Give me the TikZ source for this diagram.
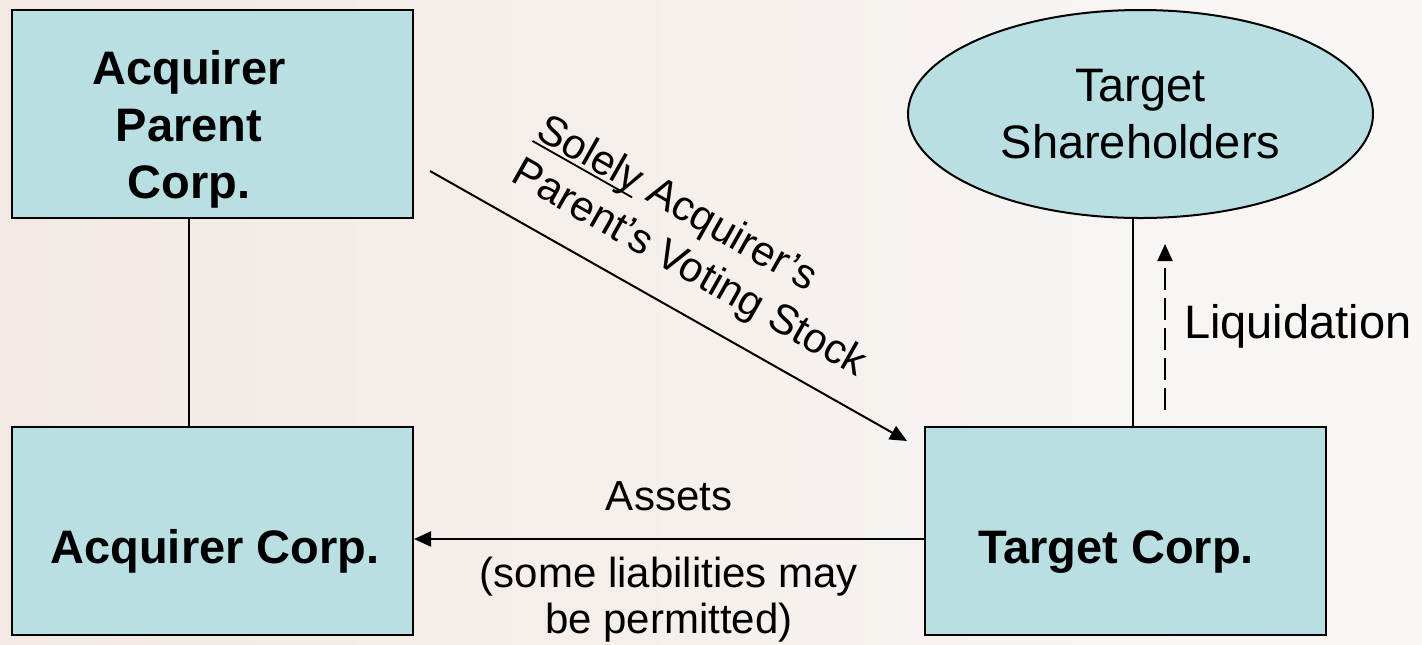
\documentclass[tikz,border=0pt]{standalone}
\usepackage{fontspec}
\setmainfont{Liberation Sans}
\usetikzlibrary{arrows.meta,shapes.geometric}

\definecolor{boxfill}{RGB}{186,223,227}
\definecolor{bgleft}{RGB}{242,233,228}
\definecolor{bgright}{RGB}{249,247,245}

% word with a rule under it
\newcommand{\underword}[1]{\setbox0\hbox{#1}\rlap{\rule[-2.5pt]{\wd0}{0.9pt}}\box0}

\begin{document}
\begin{tikzpicture}[x=0.5pt, y=-0.5pt, line width=1pt,
  corp/.style={draw, fill=boxfill, minimum width=200.5pt, minimum height=104pt, inner sep=0},
  corptext/.style={font=\fontsize{23.5}{28.5}\selectfont\bfseries, align=center, inner sep=0},
  lbl/.style={font=\fontsize{21}{25}\selectfont, inner sep=0},
  tip/.style={-{Triangle[length=8.5pt,width=7.5pt]}}]

  % background
  \shade[left color=bgleft, right color=bgright] (0,0) rectangle (1422,644);
  \useasboundingbox (0,0) rectangle (1422,644);

  % the corporations
  \node[corp] (parent) at (212.5,114) {};
  \node[corp] (acq) at (212.5,531) {};
  \node[corp] (target) at (1125.5,531) {};
  \node[draw, fill=boxfill, ellipse, minimum width=232.5pt, minimum height=104pt, inner sep=0,
    font=\fontsize{23.5}{28.5}\selectfont, align=center] (holders) at (1140.5,114) {Target\\Shareholders};

  \node[corptext, anchor=north] (parentname) at ([shift={(-11.75pt,32.5pt)}]parent.center) {Acquirer\\Parent\\Corp.};
  \node[corptext, anchor=base] (acqname) at ([shift={(1.25pt,-16pt)}]acq.center) {Acquirer Corp.};
  \node[corptext, anchor=base] (targetname) at ([shift={(-4.75pt,-16pt)}]target.center) {Target Corp.};

  % ownership links
  \draw ([xshift=-11.75pt]parent.south) -- ([xshift=-11.75pt]acq.north);
  \coordinate (own) at ([xshift=-3.75pt]holders.south);
  \draw (own) -- (own |- target.north);

  % stock to the target
  \draw[tip] ([shift={(8pt,-28.5pt)}]parent.east) -- ([shift={(-8.5pt,-7.5pt)}]target.north west)
    node[lbl, sloped, pos=0.134, anchor=south west, yshift=10.5pt, align=left] (stock)
      {\underword{Solely}\ Acquirer’s\\Parent’s Voting Stock};

  % assets to the acquirer
  \draw[tip] ([yshift=-4pt]target.west) -- ([yshift=-4pt]acq.east)
    node[lbl, midway, anchor=base, yshift=14.5pt] (assets) {Assets}
    node[lbl, midway, below=8.5pt, align=center, font=\fontsize{21}{23}\selectfont] (liab)
      {(some liabilities may\\be permitted)};

  % liquidation
  \coordinate (liqbot) at (1165,410);
  \coordinate (liqtop) at (1165,244);
  \draw[tip, dash pattern=on 11pt off 4pt] (liqbot) -- (liqtop)
    node[lbl, pos=0.428, anchor=base west, xshift=9pt, font=\fontsize{23.5}{28.5}\selectfont] (liq) {Liquidation};
\end{tikzpicture}
\end{document}
